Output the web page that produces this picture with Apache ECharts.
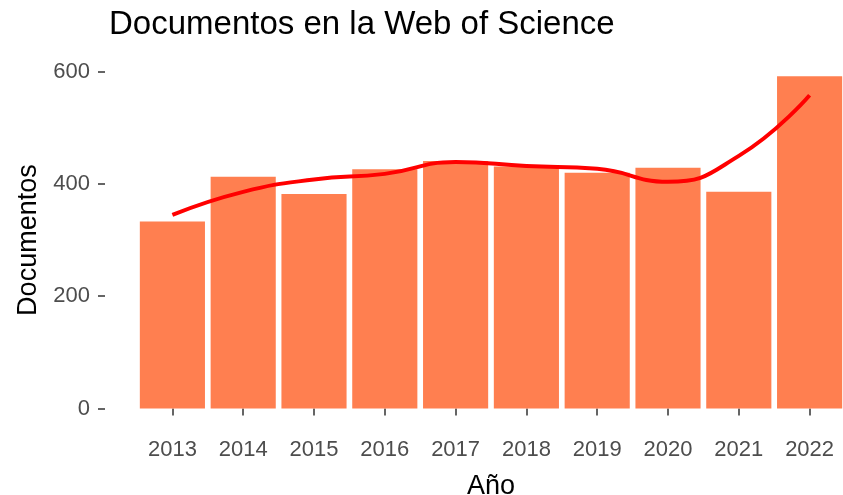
<!DOCTYPE html>
<html>
<head>
<meta charset="utf-8">
<script src="https://cdn.jsdelivr.net/npm/echarts@6/dist/echarts.min.js"></script>
<style>
  html, body { margin: 0; padding: 0; background: #fff; }
  #chart { width: 843px; height: 495px; }
</style>
</head>
<body>
<div id="chart"></div>
<script>
// datos
const years = ['2013', '2014', '2015', '2016', '2017', '2018', '2019', '2020', '2021', '2022']
const docs = [333, 413, 382, 426, 441, 431, 420, 429, 386, 592]
// curva suavizada (loess) en cada año
const trend = [345, 386, 408, 418, 439, 432, 427, 404, 450, 558]
const yTicks = [0, 200, 400, 600]

const sans = "'Liberation Sans', Arial, sans-serif"

const chart = echarts.init(document.getElementById('chart'))
chart.setOption({
  animation: false,
  backgroundColor: '#fff',
  title: {
    text: 'Documentos en la Web of Science',
    left: 104,
    top: 3,
    textStyle: { fontFamily: sans, fontSize: 33, fontWeight: 'normal', color: '#000' }
  },
  grid: { left: 137, right: -2, top: 71.7, bottom: 86.5, containLabel: false, outerBoundsMode: 'none' },
  xAxis: {
    type: 'category',
    data: years,
    offset: 14.5,
    axisLine: { show: false },
    axisTick: { show: true, alignWithLabel: true, length: 7, lineStyle: { color: '#333', width: 1.5 } },
    axisLabel: { interval: 0, margin: 16, fontFamily: sans, fontSize: 22, color: '#4d4d4d' },
    name: 'Año',
    nameLocation: 'middle',
    nameGap: 50,
    nameTextStyle: { fontFamily: sans, fontSize: 27, color: '#000' }
  },
  yAxis: {
    type: 'value',
    min: yTicks[0],
    max: yTicks[yTicks.length - 1],
    interval: 200,
    offset: 32,
    splitLine: { show: false },
    axisLine: { show: false },
    axisTick: { show: true, length: 7, lineStyle: { color: '#333', width: 1.5 } },
    axisLabel: { margin: 15, fontFamily: sans, fontSize: 22, color: '#4d4d4d' },
    name: 'Documentos',
    nameLocation: 'middle',
    nameRotate: 90,
    nameGap: 45,
    nameTextStyle: { fontFamily: sans, fontSize: 27, color: '#000' }
  },
  series: [
    {
      type: 'bar',
      data: docs,
      barWidth: '92%',
      itemStyle: { color: '#FF7F50' }
    },
    {
      type: 'line',
      data: trend,
      smooth: 0.5,
      symbol: 'none',
      lineStyle: { color: '#FF0000', width: 4 }
    }
  ]
})
</script>
</body>
</html>
